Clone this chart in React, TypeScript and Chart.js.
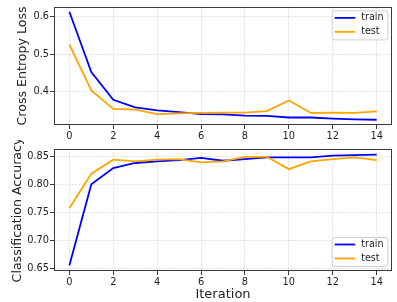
import React, { useEffect, useRef } from "react";
import { Chart, registerables } from "chart.js";

Chart.register(...registerables);

const iterations = [0, 1, 2, 3, 4, 5, 6, 7, 8, 9, 10, 11, 12, 13, 14];
const trainLoss = [0.613, 0.453, 0.379, 0.359, 0.351, 0.346, 0.341, 0.340, 0.337, 0.336, 0.332, 0.332, 0.329, 0.327, 0.326];
const testLoss = [0.526, 0.404, 0.355, 0.353, 0.341, 0.343, 0.344, 0.345, 0.345, 0.349, 0.377, 0.344, 0.345, 0.344, 0.348];
const trainAcc = [0.656, 0.801, 0.830, 0.839, 0.842, 0.844, 0.848, 0.843, 0.846, 0.849, 0.849, 0.849, 0.852, 0.853, 0.854];
const testAcc = [0.758, 0.820, 0.845, 0.842, 0.845, 0.846, 0.840, 0.842, 0.850, 0.850, 0.828, 0.842, 0.846, 0.849, 0.844];
const xTicks = [0, 2, 4, 6, 8, 10, 12, 14];
const lossTicks = [0.4, 0.5, 0.6];
const accTicks = [0.65, 0.7, 0.75, 0.8, 0.85];
const seriesNames = ["train", "test"];
const seriesColors = ["#0000ff", "#ffa500"];

const FONT = "DejaVu Sans";
const FRAME = "#3a3a3a";
const GRID = "rgba(0,0,0,0.13)";

const framePlugin = {
  id: "frame",
  afterDatasetsDraw(chart: any) {
    const { ctx, chartArea: a } = chart;
    ctx.save();
    ctx.strokeStyle = FRAME;
    ctx.lineWidth = 1;
    ctx.strokeRect(Math.round(a.left) + 0.5, Math.round(a.top) + 0.5, Math.round(a.right - a.left) - 1, Math.round(a.bottom - a.top) - 1);
    ctx.restore();
  },
};

const legendPlugin = {
  id: "boxLegend",
  afterDraw(chart: any, _args: any, opts: any) {
    const { ctx, chartArea: a } = chart;
    const ds = chart.data.datasets;
    ctx.save();
    ctx.font = `9.6px "${FONT}"`;
    const tw = Math.max(...ds.map((d: any) => ctx.measureText(d.label).width));
    const padL = 2.5, lineLen = 20.5, gap = 6, padR = 4.5;
    const w = padL + lineLen + gap + tw + padR;
    const h = 29;
    const x = a.right - 4 - w;
    const y = opts.corner === "bottom" ? a.bottom - 4.5 - h : a.top + 4;
    const r = 2.5;
    ctx.beginPath();
    ctx.moveTo(x + r, y);
    ctx.lineTo(x + w - r, y);
    ctx.arcTo(x + w, y, x + w, y + r, r);
    ctx.lineTo(x + w, y + h - r);
    ctx.arcTo(x + w, y + h, x + w - r, y + h, r);
    ctx.lineTo(x + r, y + h);
    ctx.arcTo(x, y + h, x, y + h - r, r);
    ctx.lineTo(x, y + r);
    ctx.arcTo(x, y, x + r, y, r);
    ctx.closePath();
    ctx.fillStyle = "rgba(255,255,255,0.85)";
    ctx.fill();
    ctx.strokeStyle = "#d0d0d0";
    ctx.lineWidth = 1;
    ctx.stroke();
    ds.forEach((d: any, i: number) => {
      const ry = y + 7 + i * 14;
      ctx.beginPath();
      ctx.moveTo(x + padL, ry);
      ctx.lineTo(x + padL + lineLen, ry);
      ctx.strokeStyle = d.borderColor;
      ctx.lineWidth = 1.8;
      ctx.stroke();
      ctx.fillStyle = "#222";
      ctx.textBaseline = "middle";
      ctx.textAlign = "left";
      ctx.fillText(d.label, x + padL + lineLen + gap, ry);
    });
    ctx.restore();
  },
};

function makeConfig(opts: {
  train: number[];
  test: number[];
  yMin: number;
  yMax: number;
  yTicks: number[];
  decimals: number;
  yTitle: string;
  yTitlePad: number;
  xTitle?: string;
  xHeight: number;
  padTop: number;
  legendCorner: string;
}): any {
  const data = [opts.train, opts.test];
  const grid = {
    color: GRID,
    lineWidth: 0.8,
    tickColor: FRAME,
    tickLength: 4,
    tickWidth: 1,
    tickBorderDash: [],
  };
  return {
    type: "line",
    data: {
      datasets: data.map((vals, i) => ({
        label: seriesNames[i],
        data: iterations.map((it, j) => ({ x: it, y: vals[j] })),
        borderColor: seriesColors[i],
        backgroundColor: seriesColors[i],
        borderWidth: 1.8,
        pointRadius: 0,
        tension: 0,
        order: i === 0 ? 1 : 0,
      })),
    },
    options: {
      animation: false,
      responsive: false,
      maintainAspectRatio: false,
      layout: { padding: { left: 0, right: 5, top: opts.padTop, bottom: 0 } },
      plugins: {
        legend: { display: false },
        tooltip: { enabled: false },
        boxLegend: { corner: opts.legendCorner },
      },
      scales: {
        x: {
          type: "linear",
          min: -0.7,
          max: 14.7,
          afterBuildTicks: (s: any) => {
            s.ticks = xTicks.map((v) => ({ value: v }));
          },
          afterFit: (s: any) => {
            s.height = opts.xHeight;
          },
          ticks: {
            color: "#222",
            font: { family: FONT, size: 9.8 },
            padding: 2,
            maxRotation: 0,
            autoSkip: false,
            callback: (v: number) => String(v),
          },
          grid,
          border: { display: false, dash: [2, 1] },
          title: opts.xTitle
            ? {
                display: true,
                text: opts.xTitle,
                color: "#222",
                font: { family: FONT, size: 13, lineHeight: 1.1 },
                padding: { top: 0, bottom: 0 },
              }
            : { display: false },
        },
        y: {
          type: "linear",
          min: opts.yMin,
          max: opts.yMax,
          afterBuildTicks: (s: any) => {
            s.ticks = opts.yTicks.map((v) => ({ value: v }));
          },
          afterFit: (s: any) => {
            s.width = 54;
          },
          ticks: {
            color: "#222",
            font: { family: FONT, size: 9.8 },
            padding: 1,
            autoSkip: false,
            callback: (v: number) => v.toFixed(opts.decimals),
          },
          grid,
          border: { display: false, dash: [2, 1] },
          title: {
            display: true,
            text: opts.yTitle,
            color: "#222",
            font: { family: FONT, size: 12.6, lineHeight: 1.2 },
            padding: { top: opts.yTitlePad, bottom: 0 },
          },
        },
      },
    },
    plugins: [framePlugin, legendPlugin],
  };
}

function ChartCanvas(props: { config: any; top: number; height: number }) {
  const ref = useRef<HTMLCanvasElement>(null);
  useEffect(() => {
    if (!ref.current) return;
    const c = new Chart(ref.current, props.config);
    return () => c.destroy();
  }, []);
  return (
    <canvas
      ref={ref}
      width={397}
      height={props.height}
      style={{ position: "absolute", left: 0, top: props.top, width: 397, height: props.height, display: "block" }}
    />
  );
}

export default function App() {
  const lossConfig = makeConfig({
    train: trainLoss,
    test: testLoss,
    yMin: 0.312,
    yMax: 0.626,
    yTicks: lossTicks,
    decimals: 1,
    yTitle: "Cross Entropy Loss",
    yTitlePad: 15,
    xHeight: 15,
    padTop: 4,
    legendCorner: "top",
  });
  const accConfig = makeConfig({
    train: trainAcc,
    test: testAcc,
    yMin: 0.646,
    yMax: 0.864,
    yTicks: accTicks,
    decimals: 2,
    yTitle: "Classification Accuracy",
    yTitlePad: 10,
    xTitle: "Iteration",
    xHeight: 31,
    padTop: 9,
    legendCorner: "bottom",
  });
  return (
    <div style={{ position: "absolute", left: 0, top: 0, width: 397, height: 302, background: "#fff", overflow: "hidden" }}>
      <ChartCanvas config={lossConfig} top={0} height={140} />
      <ChartCanvas config={accConfig} top={140} height={162} />
    </div>
  );
}
